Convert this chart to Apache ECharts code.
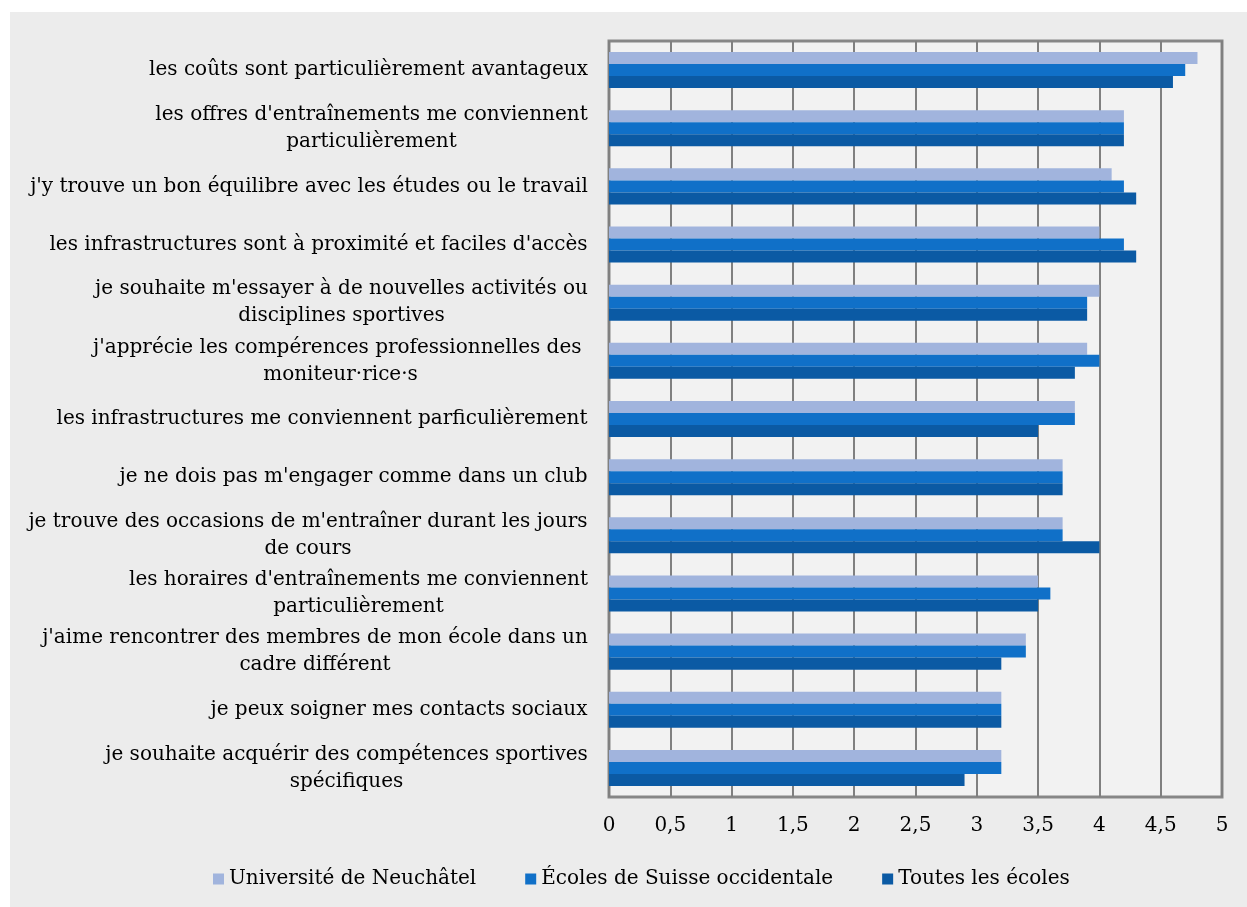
<!DOCTYPE html>
<html>
<head>
<meta charset="utf-8">
<script src="https://cdn.jsdelivr.net/npm/echarts@6/dist/echarts.min.js"></script>
<style>
  html, body { margin: 0; padding: 0; background: #ffffff; }
  #chart { position: absolute; left: 10px; top: 12px; width: 1237px; height: 895px; background: #ececec; }
</style>
</head>
<body>
<div id="chart"></div>
<script>
// données
const categories = [
  "les coûts sont particulièrement avantageux",
  "les offres d'entraînements me conviennent\nparticulièrement",
  "j'y trouve un bon équilibre avec les études ou le travail",
  "les infrastructures sont à proximité et faciles d'accès",
  "je souhaite m'essayer à de nouvelles activités ou\ndisciplines sportives",
  "j'apprécie les compérences professionnelles des \nmoniteur·rice·s",
  "les infrastructures me conviennent parficulièrement",
  "je ne dois pas m'engager comme dans un club",
  "je trouve des occasions de m'entraîner durant les jours\nde cours",
  "les horaires d'entraînements me conviennent\nparticulièrement",
  "j'aime rencontrer des membres de mon école dans un\ncadre différent",
  "je peux soigner mes contacts sociaux",
  "je souhaite acquérir des compétences sportives\nspécifiques"
];
const seriesNames = ["Université de Neuchâtel", "Écoles de Suisse occidentale", "Toutes les écoles"];
const uniNe = [4.8, 4.2, 4.1, 4.0, 4.0, 3.9, 3.8, 3.7, 3.7, 3.5, 3.4, 3.2, 3.2];
const suisseOcc = [4.7, 4.2, 4.2, 4.2, 3.9, 4.0, 3.8, 3.7, 3.7, 3.6, 3.4, 3.2, 3.2];
const toutes = [4.6, 4.2, 4.3, 4.3, 3.9, 3.8, 3.5, 3.7, 4.0, 3.5, 3.2, 3.2, 2.9];
const xTickLabels = ['0', '0,5', '1', '1,5', '2', '2,5', '3', '3,5', '4', '4,5', '5'];

const FONT = '"DejaVu Serif", serif';
const FS = 20;

// largeur des lignes pour centrer les libellés sur deux lignes
const ctx = document.createElement('canvas').getContext('2d');
ctx.font = FS + 'px ' + FONT;
const rich = {};
categories.forEach((c, i) => {
  const w = Math.max(...c.split('\n').map(l => ctx.measureText(l).width));
  rich['c' + i] = { width: Math.ceil(w), align: 'center', fontSize: FS, fontFamily: FONT, color: '#000', lineHeight: 27 };
});

const chart = echarts.init(document.getElementById('chart'));
chart.setOption({
  backgroundColor: '#ececec',
  textStyle: { fontFamily: FONT },
  grid: {
    left: 599, top: 29, width: 613, height: 756,
    outerBoundsMode: 'none', containLabel: false,
    show: true, backgroundColor: '#f2f2f2', borderColor: '#878787', borderWidth: 3
  },
  legend: {
    top: 852, left: 198,
    icon: 'rect', itemWidth: 11, itemHeight: 11, itemGap: 49,
    textStyle: { fontSize: 20, fontFamily: FONT, color: '#000' },
    data: seriesNames
  },
  xAxis: {
    type: 'value', min: 0, max: 5, interval: 0.5,
    axisLine: { show: false }, axisTick: { show: false },
    splitLine: { lineStyle: { color: '#808080', width: 2 } },
    axisLabel: {
      margin: 19, fontSize: FS, fontFamily: FONT, color: '#000',
      formatter: v => xTickLabels[Math.round(v * 2)]
    }
  },
  yAxis: {
    type: 'category', inverse: true, data: categories,
    axisLine: { show: false }, axisTick: { show: false },
    axisLabel: {
      margin: 21, align: 'right',
      formatter: (v, i) => v.split('\n').map(l => '{c' + i + '|' + l + '}').join('\n'),
      rich: rich
    }
  },
  series: [
    { name: seriesNames[0], type: 'bar', data: uniNe, itemStyle: { color: '#a1b4dd' }, barGap: '0%', barCategoryGap: '38%' },
    { name: seriesNames[1], type: 'bar', data: suisseOcc, itemStyle: { color: '#1070c8' } },
    { name: seriesNames[2], type: 'bar', data: toutes, itemStyle: { color: '#0b5aa4' } }
  ]
});
</script>
</body>
</html>
